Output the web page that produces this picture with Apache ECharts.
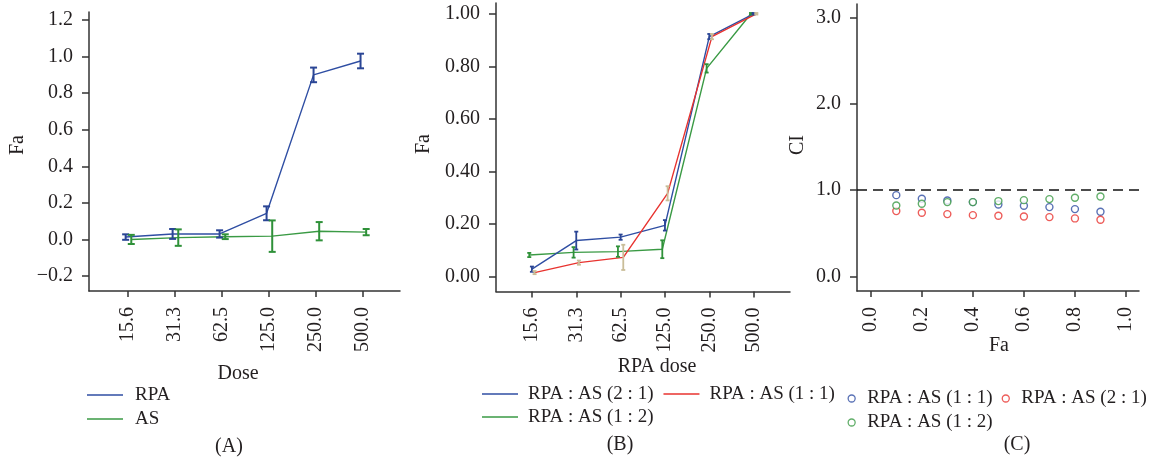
<!DOCTYPE html>
<html>
<head>
<meta charset="utf-8">
<script src="https://cdn.jsdelivr.net/npm/echarts@6/dist/echarts.min.js"></script>
<style>
html,body{margin:0;padding:0;background:#fff;}
#chart{width:1157px;height:463px;}
</style>
</head>
<body>
<div id="chart"></div>
<script>
// ---------- data ----------
const doses = ["15.6", "31.3", "62.5", "125.0", "250.0", "500.0"];
// Panel A
const rpaFa  = [0.013, 0.030, 0.030, 0.143, 0.900, 0.976];
const rpaErr = [0.015, 0.027, 0.020, 0.038, 0.040, 0.040];
const asFa   = [0.000, 0.010, 0.015, 0.018, 0.045, 0.040];
const asErr  = [0.025, 0.045, 0.013, 0.086, 0.050, 0.017];
// Panel B
const mix21Fa  = [0.027, 0.136, 0.149, 0.194, 0.913, 1.000];
const mix21Err = [0.010, 0.034, 0.010, 0.020, 0.010, 0.003];
const mix11Fa  = [0.014, 0.052, 0.072, 0.316, 0.913, 1.000];
const mix11Err = [0.006, 0.008, 0.048, 0.027, 0.010, 0.003];
const mix12Fa  = [0.081, 0.091, 0.094, 0.103, 0.792, 1.000];
const mix12Err = [0.008, 0.020, 0.020, 0.034, 0.016, 0.003];
// Panel C
const faLevels = [0.1, 0.2, 0.3, 0.4, 0.5, 0.6, 0.7, 0.8, 0.9];
const ci11 = [0.942, 0.900, 0.880, 0.861, 0.834, 0.819, 0.803, 0.780, 0.749];
const ci12 = [0.822, 0.842, 0.861, 0.861, 0.873, 0.884, 0.896, 0.911, 0.927];
const ci21 = [0.757, 0.737, 0.722, 0.710, 0.703, 0.695, 0.687, 0.672, 0.656];
// tick labels
const yTicksA = [-0.2, 0.0, 0.2, 0.4, 0.6, 0.8, 1.0, 1.2];
const yLabelsA = ["\u22120.2", "0.0", "0.2", "0.4", "0.6", "0.8", "1.0", "1.2"];
const yTicksB = [0.0, 0.2, 0.4, 0.6, 0.8, 1.0];
const yLabelsB = ["0.00", "0.20", "0.40", "0.60", "0.80", "1.00"];
const yTicksC = [0, 1, 2, 3];
const yLabelsC = ["0.0", "1.0", "2.0", "3.0"];
const xTicksC = [0.0, 0.2, 0.4, 0.6, 0.8, 1.0];
const xLabelsC = ["0.0", "0.2", "0.4", "0.6", "0.8", "1.0"];
const namesA = ["RPA", "AS"];
const namesB = ["RPA : AS (2 : 1)", "RPA : AS (1 : 1)", "RPA : AS (1 : 2)"];
const namesC = ["RPA : AS (1 : 1)", "RPA : AS (2 : 1)", "RPA : AS (1 : 2)"];
const ciLine = 1.0;

// ---------- styling ----------
const FONT = "'Liberation Serif', 'DejaVu Serif', serif";
const FS = 20;
const LFS = 19;
const TXT = '#231f20';
const AX = '#333333';
const BLUE = '#2f4ea3', GREEN = '#3a9a44', RED = '#e8332f', TAN = '#c9bd98';
const idx = doses.map((d, i) => i);

function labelFor(ticks, labels) {
  return function (v) {
    for (let i = 0; i < ticks.length; i++) if (Math.abs(ticks[i] - v) < 1e-6) return labels[i];
    return '';
  };
}
function pts(vals, off) { return vals.map((v, i) => [i + off, v]); }
function errs(vals, e, off) { return vals.map((v, i) => [i + off, v - e[i], v + e[i]]); }
function errRender(capW, color, lw) {
  return function (params, api) {
    const x = api.value(0), lo = api.value(1), hi = api.value(2);
    const p1 = api.coord([x, lo]), p2 = api.coord([x, hi]);
    const st = { stroke: color, lineWidth: lw, fill: null };
    return { type: 'group', children: [
      { type: 'line', shape: { x1: p1[0], y1: p1[1], x2: p2[0], y2: p2[1] }, style: st },
      { type: 'line', shape: { x1: p1[0] - capW / 2, y1: p1[1], x2: p1[0] + capW / 2, y2: p1[1] }, style: st },
      { type: 'line', shape: { x1: p2[0] - capW / 2, y1: p2[1], x2: p2[0] + capW / 2, y2: p2[1] }, style: st }
    ]};
  };
}
function xAxisCfg(gi, min, max, ticks, fmt) {
  return {
    type: 'value', gridIndex: gi, min: min, max: max,
    axisLine: { show: true, onZero: false, lineStyle: { color: AX, width: 1.5 } },
    axisTick: { show: true, customValues: ticks, length: 6, lineStyle: { color: AX, width: 1.5 } },
    axisLabel: { customValues: ticks, formatter: fmt, rotate: 90, margin: 16,
      fontFamily: FONT, fontSize: FS, color: TXT },
    splitLine: { show: false }
  };
}
function yAxisCfg(gi, min, max, ticks, labels) {
  return {
    type: 'value', gridIndex: gi, min: min, max: max,
    axisLine: { show: true, onZero: false, lineStyle: { color: AX, width: 1.5 } },
    axisTick: { show: true, customValues: ticks, length: 7, lineStyle: { color: AX, width: 1.5 } },
    axisLabel: { customValues: ticks, formatter: labelFor(ticks, labels), margin: 16,
      fontFamily: FONT, fontSize: FS, color: TXT },
    splitLine: { show: false }
  };
}
function lineSeries(name, gi, data, color) {
  return { type: 'line', name: name, xAxisIndex: gi, yAxisIndex: gi, data: data,
    symbol: 'none', lineStyle: { color: color, width: 1.4 }, itemStyle: { color: color },
    silent: true, animation: false, z: 2 };
}
function errSeries(gi, data, cap, color, lw) {
  return { type: 'custom', xAxisIndex: gi, yAxisIndex: gi, data: data,
    renderItem: errRender(cap, color, lw), encode: { x: 0, y: [1, 2] },
    clip: false, silent: true, animation: false, z: 3 };
}
function txt(x, y, s, rot) {
  return { type: 'text', x: x, y: y, rotation: rot || 0,
    style: { text: s, fontFamily: FONT, fontSize: FS, fill: TXT, align: 'center', verticalAlign: 'middle' } };
}
function lineLegend(left, top, orient, names, colors, gap, textPad) {
  return { orient: orient, left: left, top: top, padding: 0, itemWidth: 36, itemHeight: 1.6, itemGap: gap,
    selectedMode: false, icon: 'rect',
    data: names.map((n, i) => ({ name: n, itemStyle: { color: colors[i], borderWidth: 0 } })),
    textStyle: { fontFamily: FONT, fontSize: LFS, color: TXT, lineHeight: 20, padding: [0, 0, 0, textPad] } };
}
function dotLegend(left, top, ids, colors, gap) {
  return { orient: 'horizontal', left: left, top: top, padding: 0, itemWidth: 7, itemHeight: 7, itemGap: gap,
    selectedMode: false,
    data: ids.map((id, i) => ({ name: id, icon: 'circle',
      itemStyle: { color: '#ffffff', borderColor: colors[i], borderWidth: 1.3 } })),
    formatter: function (n) { return namesC[+n.slice(1)]; },
    textStyle: { fontFamily: FONT, fontSize: LFS, color: TXT, lineHeight: 20, padding: [0, 0, 0, 7] } };
}

const chart = echarts.init(document.getElementById('chart'), null, { renderer: 'canvas' });
const doseFmt = function (v) { return doses[Math.round(v)]; };

const option = {
  animation: false,
  backgroundColor: '#ffffff',
  grid: [
    { left: 89, top: 12, width: 311, height: 279 },
    { left: 496, top: 3, width: 294, height: 288.5 },
    { left: 857, top: 4, width: 282, height: 287 }
  ],
  xAxis: [
    xAxisCfg(0, -0.83, 5.79, idx, doseFmt),
    xAxisCfg(1, -0.81, 5.82, idx, doseFmt),
    xAxisCfg(2, -0.054, 1.051, xTicksC, labelFor(xTicksC, xLabelsC))
  ],
  yAxis: [
    yAxisCfg(0, -0.282, 1.244, yTicksA, yLabelsA),
    yAxisCfg(1, -0.058, 1.041, yTicksB, yLabelsB),
    yAxisCfg(2, -0.17, 3.159, yTicksC, yLabelsC)
  ],
  legend: [
    lineLegend(87, 385, 'vertical', namesA, [BLUE, GREEN], 4, 7),
    lineLegend(482, 384, 'horizontal', [namesB[0], namesB[1]], [BLUE, RED], 10, 5),
    lineLegend(482, 407, 'horizontal', [namesB[2]], [GREEN], 10, 5),
    dotLegend(847.5, 388.5, ['C0', 'C1'], [BLUE, RED], 9),
    dotLegend(847.5, 412.5, ['C2'], [GREEN], 9)
  ],
  graphic: [
    txt(18, 145, 'Fa', Math.PI / 2),
    txt(424, 144, 'Fa', Math.PI / 2),
    txt(798, 145, 'CI', Math.PI / 2),
    txt(238, 374, 'Dose'),
    txt(657, 367, 'RPA dose'),
    txt(999, 346, 'Fa'),
    txt(229, 447, '(A)'),
    txt(620, 445, '(B)'),
    txt(1017, 445, '(C)')
  ],
  series: [
    // Panel A
    lineSeries('RPA', 0, pts(rpaFa, -0.05), BLUE),
    lineSeries('AS', 0, pts(asFa, 0.07), GREEN),
    errSeries(0, errs(rpaFa, rpaErr, -0.05), 7, '#2a4595', 2),
    errSeries(0, errs(asFa, asErr, 0.07), 7, '#2f9139', 2),
    // Panel B
    lineSeries(namesB[2], 1, pts(mix12Fa, -0.06), GREEN),
    lineSeries(namesB[0], 1, pts(mix21Fa, 0), BLUE),
    lineSeries(namesB[1], 1, pts(mix11Fa, 0.06), RED),
    errSeries(1, errs(mix12Fa, mix12Err, -0.06), 4, '#2f9139', 1.8),
    errSeries(1, errs(mix21Fa, mix21Err, 0), 4, '#2a4595', 1.8),
    errSeries(1, errs(mix11Fa, mix11Err, 0.06), 4, TAN, 1.8),
    // Panel C
    { type: 'scatter', name: 'C0', xAxisIndex: 2, yAxisIndex: 2,
      data: faLevels.map((f, i) => [f, ci11[i]]), symbol: 'circle', symbolSize: 7,
      itemStyle: { color: '#ffffff', borderColor: BLUE, borderWidth: 1.4 }, silent: true,
      markLine: { silent: true, symbol: 'none', label: { show: false },
        lineStyle: { color: '#111', type: [10, 6], width: 1.5 }, data: [{ yAxis: ciLine }] } },
    { type: 'scatter', name: 'C1', xAxisIndex: 2, yAxisIndex: 2,
      data: faLevels.map((f, i) => [f, ci21[i]]), symbol: 'circle', symbolSize: 7,
      itemStyle: { color: '#ffffff', borderColor: RED, borderWidth: 1.4 }, silent: true },
    { type: 'scatter', name: 'C2', xAxisIndex: 2, yAxisIndex: 2,
      data: faLevels.map((f, i) => [f, ci12[i]]), symbol: 'circle', symbolSize: 7,
      itemStyle: { color: '#ffffff', borderColor: GREEN, borderWidth: 1.4 }, silent: true }
  ]
};
chart.setOption(option);
</script>
</body>
</html>
